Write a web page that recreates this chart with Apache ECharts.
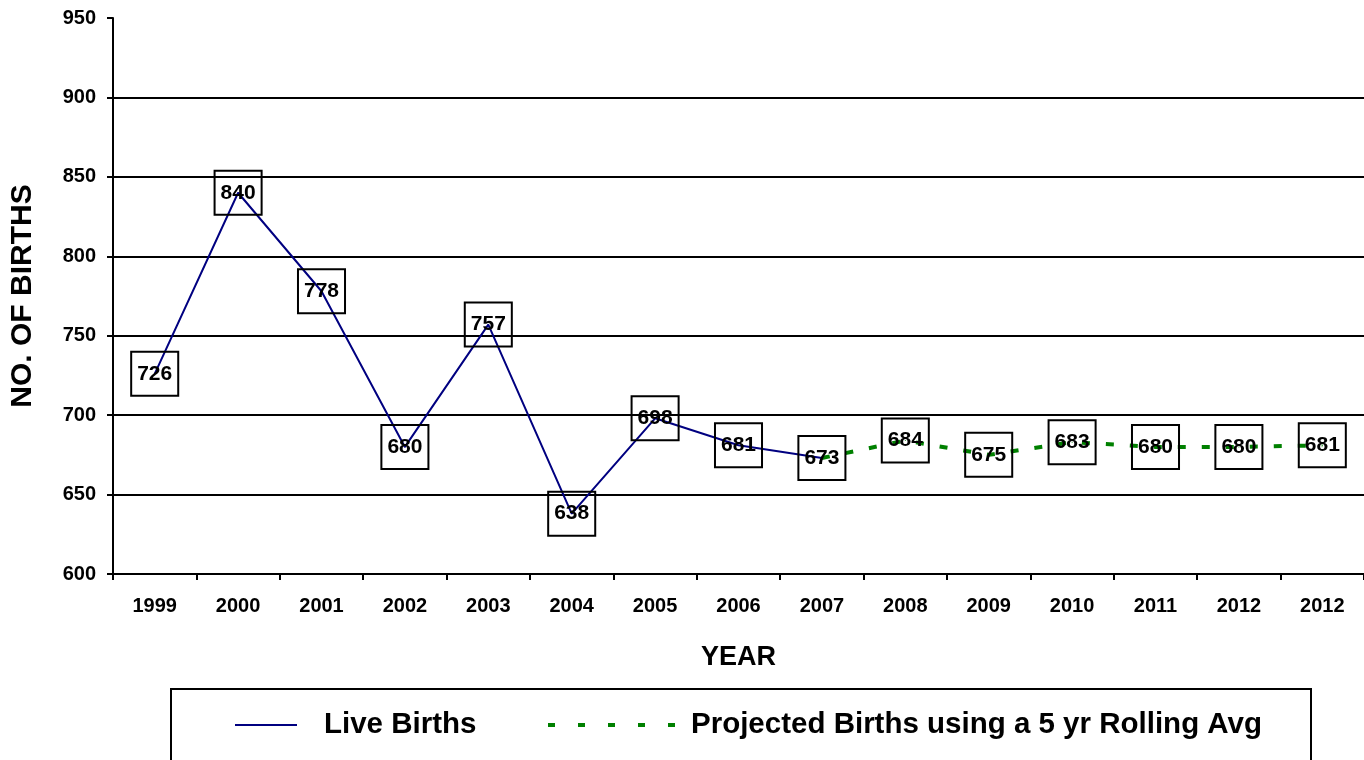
<!DOCTYPE html>
<html>
<head>
<meta charset="utf-8">
<script src="https://cdn.jsdelivr.net/npm/echarts@6/dist/echarts.min.js"></script>
<style>
  html, body { margin: 0; padding: 0; background: #fff; }
  #chart { width: 1364px; height: 760px; }
</style>
</head>
<body>
<div id="chart"></div>
<script>
// data
const years = ['1999', '2000', '2001', '2002', '2003', '2004', '2005', '2006', '2007', '2008', '2009', '2010', '2011', '2012', '2012'];
const liveBirths = [726, 840, 778, 680, 757, 638, 698, 681, 673, null, null, null, null, null, null];
const projected = [null, null, null, null, null, null, null, null, 673, 684, 675, 683, 680, 680, 681];
const yTicks = { min: 600, max: 950, interval: 50 };

const font = '"Liberation Sans", Arial, sans-serif';

const boxLabel = {
  show: true,
  position: 'inside',
  color: '#000',
  fontFamily: font,
  fontWeight: 'bold',
  fontSize: 21,
  lineHeight: 21,
  borderColor: '#000',
  borderWidth: 2,
  padding: [12, 6, 11, 6]
};

// first projected point shares the 2007 value, its label is already drawn
const projectedData = projected.map((v, i) => (i === 8 ? { value: v, label: { show: false } } : v));

const chart = echarts.init(document.getElementById('chart'));

const option = {
  animation: false,
  grid: { left: 112, right: 0, top: 18, bottom: 186 },
  graphic: [
    {
      type: 'rect',
      shape: { x: 171, y: 689, width: 1140, height: 100 },
      style: { fill: 'none', stroke: '#000', lineWidth: 2 }
    }
  ],
  legend: [
    {
      left: 234, top: 710, padding: 0,
      itemWidth: 62, itemHeight: 30,
      itemStyle: { opacity: 0 },
      lineStyle: { color: '#000080', width: 2 },
      textStyle: { fontFamily: font, fontWeight: 'bold', fontSize: 29.5, color: '#000', padding: [0, 0, 0, 22] },
      data: ['Live Births']
    },
    {
      left: 546, top: 710, padding: 0,
      itemWidth: 127, itemHeight: 30,
      itemStyle: { opacity: 0 },
      lineStyle: { color: '#008000', width: 4, type: [7, 23] },
      textStyle: { fontFamily: font, fontWeight: 'bold', fontSize: 29.5, color: '#000', padding: [0, 0, 0, 11] },
      data: ['Projected Births using a 5 yr Rolling Avg']
    }
  ],
  xAxis: {
    type: 'category',
    data: years,
    boundaryGap: true,
    name: 'YEAR',
    nameLocation: 'middle',
    nameGap: 70,
    nameTextStyle: { fontFamily: font, fontWeight: 'bold', fontSize: 27, color: '#000' },
    axisLine: { lineStyle: { color: '#000', width: 2 } },
    axisTick: { show: true, length: 6, lineStyle: { color: '#000', width: 2 } },
    axisLabel: { interval: 0, margin: 22, color: '#000', fontFamily: font, fontWeight: 'bold', fontSize: 20 }
  },
  yAxis: {
    type: 'value',
    min: yTicks.min,
    max: yTicks.max,
    interval: yTicks.interval,
    name: 'NO. OF BIRTHS',
    nameLocation: 'middle',
    nameGap: 75,
    nameTextStyle: { fontFamily: font, fontWeight: 'bold', fontSize: 30, color: '#000' },
    axisLine: { show: true, lineStyle: { color: '#000', width: 2 } },
    axisTick: { show: true, length: 6, lineStyle: { color: '#000', width: 2 } },
    axisLabel: { margin: 17, color: '#000', fontFamily: font, fontWeight: 'bold', fontSize: 20 },
    splitLine: { show: true, showMaxLine: false, lineStyle: { color: '#000', width: 2 } }
  },
  series: [
    {
      name: 'Live Births',
      type: 'line',
      data: liveBirths,
      symbol: 'circle',
      symbolSize: 1,
      showAllSymbol: true,
      itemStyle: { color: '#000080' },
      lineStyle: { color: '#000080', width: 2 },
      label: boxLabel,
      z: 3
    },
    {
      name: 'Projected Births using a 5 yr Rolling Avg',
      type: 'line',
      data: projectedData,
      symbol: 'circle',
      symbolSize: 1,
      showAllSymbol: true,
      itemStyle: { color: '#008000' },
      lineStyle: { color: '#008000', width: 4, type: [8, 16] },
      label: boxLabel,
      z: 2
    }
  ]
};

chart.setOption(option);
</script>
</body>
</html>
